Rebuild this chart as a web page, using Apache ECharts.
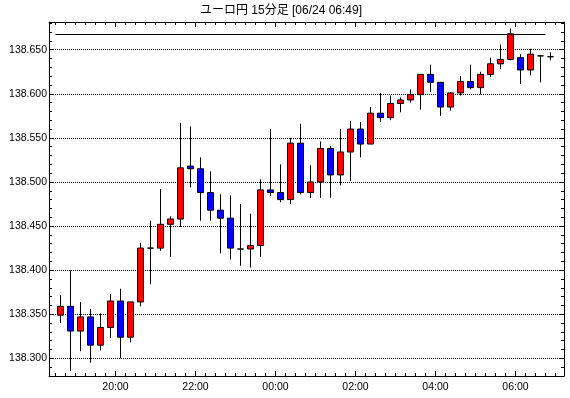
<!DOCTYPE html>
<html>
<head>
<meta charset="utf-8">
<script src="https://cdn.jsdelivr.net/npm/echarts@6/dist/echarts.min.js"></script>
<style>
  html, body { margin: 0; padding: 0; background: #fff; }
  #chart { width: 570px; height: 398px; }
</style>
</head>
<body>
<div id="chart"></div>
<script>
// 15分足 (18:30 〜 06:45)
const times = [
  '18:30', '18:45', '19:00', '19:15', '19:30', '19:45', '20:00', '20:15', '20:30', '20:45',
  '21:00', '21:15', '21:30', '21:45', '22:00', '22:15', '22:30', '22:45', '23:00', '23:15',
  '23:30', '23:45', '00:00', '00:15', '00:30', '00:45', '01:00', '01:15', '01:30', '01:45',
  '02:00', '02:15', '02:30', '02:45', '03:00', '03:15', '03:30', '03:45', '04:00', '04:15',
  '04:30', '04:45', '05:00', '05:15', '05:30', '05:45', '06:00', '06:15', '06:30', '06:45'
];
const opens = [
  138.349, 138.359, 138.331, 138.347, 138.315, 138.335, 138.365, 138.324, 138.364, 138.425,
  138.425, 138.452, 138.458, 138.518, 138.515, 138.488, 138.468, 138.459, 138.424, 138.424,
  138.428, 138.491, 138.488, 138.480, 138.544, 138.488, 138.500, 138.538, 138.508, 138.534,
  138.560, 138.543, 138.578, 138.573, 138.589, 138.593, 138.599, 138.622, 138.613, 138.585,
  138.601, 138.614, 138.607, 138.622, 138.634, 138.639, 138.641, 138.627, 138.643, 138.642
];
const closes = [
  138.359, 138.331, 138.347, 138.315, 138.335, 138.365, 138.324, 138.364, 138.425, 138.425,
  138.452, 138.458, 138.516, 138.515, 138.488, 138.468, 138.459, 138.425, 138.424, 138.428,
  138.491, 138.488, 138.480, 138.544, 138.488, 138.500, 138.538, 138.508, 138.534, 138.560,
  138.543, 138.578, 138.573, 138.589, 138.593, 138.599, 138.622, 138.613, 138.585, 138.601,
  138.614, 138.607, 138.622, 138.634, 138.639, 138.668, 138.627, 138.645, 138.643, 138.642
];
const lows = [
  138.340, 138.286, 138.308, 138.295, 138.309, 138.323, 138.300, 138.318, 138.359, 138.384,
  138.422, 138.415, 138.449, 138.494, 138.456, 138.456, 138.419, 138.412, 138.405, 138.403,
  138.415, 138.484, 138.477, 138.475, 138.486, 138.482, 138.482, 138.482, 138.496, 138.501,
  138.528, 138.543, 138.568, 138.570, 138.579, 138.590, 138.582, 138.602, 138.575, 138.581,
  138.598, 138.605, 138.599, 138.619, 138.628, 138.638, 138.611, 138.621, 138.613, 138.638
];
const highs = [
  138.372, 138.400, 138.364, 138.356, 138.351, 138.373, 138.379, 138.364, 138.431, 138.456,
  138.492, 138.461, 138.567, 138.563, 138.528, 138.512, 138.486, 138.485, 138.475, 138.464,
  138.503, 138.560, 138.520, 138.550, 138.566, 138.519, 138.546, 138.541, 138.560, 138.569,
  138.568, 138.585, 138.601, 138.598, 138.596, 138.605, 138.622, 138.633, 138.613, 138.602,
  138.620, 138.633, 138.625, 138.641, 138.656, 138.674, 138.645, 138.651, 138.644, 138.647
];
const timeLabels = ['20:00', '22:00', '00:00', '02:00', '04:00', '06:00'];
const priceLabels = ['138.300', '138.350', '138.400', '138.450', '138.500', '138.550', '138.600', '138.650'];
const highLine = 138.6675;

const yMin = 138.28;
const yMax = 138.6814;
const xMin = -1.15;
const xMax = times.length + 0.35;

// 足の境目 (目盛り)
const boundaries = times.map((t, i) => i - 0.5).concat([times.length - 0.5]);
const labelPos = timeLabels.map(t => times.indexOf(t) - 0.5);
const priceVals = priceLabels.map(Number);
const minorPrice = [];
for (let k = 28; k <= 68; k++) minorPrice.push(+(138 + k / 100).toFixed(2));

const candles = times.map((t, i) => [i, opens[i], closes[i], lows[i], highs[i]]);

const font = { color: '#000', fontSize: 10.5, fontFamily: 'Liberation Sans, Arial, sans-serif' };

const xBase = (position, ticks, len, line) => ({
    type: 'value', position, min: xMin, max: xMax,
    axisLine: { show: line, onZero: false, lineStyle: { color: '#000', width: 1 } },
    axisTick: { show: true, inside: true, length: len, customValues: ticks, lineStyle: { color: '#000' } },
    axisLabel: { show: false },
    splitLine: { show: false }
});
const yBase = (position, ticks, len, line) => ({
    type: 'value', position, min: yMin, max: yMax, scale: true,
    axisLine: { show: line, onZero: false, lineStyle: { color: '#000', width: 1 } },
    axisTick: { show: true, inside: true, length: len, customValues: ticks, lineStyle: { color: '#000' } },
    axisLabel: { show: false },
    splitLine: { show: false }
});

const xBottom = xBase('bottom', boundaries, 3, true);
xBottom.axisLabel = {
    show: true, customValues: labelPos, margin: 6, ...font,
    formatter: v => timeLabels[labelPos.indexOf(v)] || ''
};

const yLeftMajor = yBase('left', priceVals, 5, false);
yLeftMajor.axisLabel = {
    show: true, customValues: priceVals, margin: 2, ...font,
    formatter: v => v.toFixed(3)
};
yLeftMajor.splitLine = { show: true, lineStyle: { color: '#000', width: 1, type: [1, 1] } };

const chart = echarts.init(document.getElementById('chart'));
chart.setOption({
    backgroundColor: '#fff',
    animation: false,
    title: {
        text: 'ユーロ円 15分足 [06/24 06:49]',
        left: 281, top: 5, padding: 0, textAlign: 'center',
        textStyle: { fontSize: 12, fontWeight: 'normal', color: '#000', fontFamily: 'Liberation Sans, Noto Sans CJK JP, sans-serif' }
    },
    grid: { left: 49, right: 6, top: 22, bottom: 22, outerBoundsMode: 'none' },
    xAxis: [
        xBottom,
        xBase('top', boundaries, 3, true),
        xBase('bottom', labelPos, 5, false),
        xBase('top', labelPos, 5, false)
    ],
    yAxis: [
        yBase('left', minorPrice, 3, true),
        yBase('right', minorPrice, 3, true),
        yLeftMajor,
        yBase('right', priceVals, 5, false)
    ],
    series: [{
        type: 'candlestick',
        xAxisIndex: 0,
        yAxisIndex: 0,
        encode: { x: 0, y: [1, 2, 3, 4] },
        barWidth: 6,
        itemStyle: {
            color: '#ff0000', color0: '#0000ff',
            borderColor: '#000', borderColor0: '#000', borderColorDoji: '#000',
            borderWidth: 1
        },
        data: candles,
        markLine: {
            silent: true, symbol: 'none', animation: false,
            label: { show: false },
            lineStyle: { color: '#000', width: 1, type: 'solid' },
            data: [[{ coord: [-0.5, highLine] }, { coord: [times.length - 1.5, highLine] }]]
        }
    }]
});
</script>
</body>
</html>
